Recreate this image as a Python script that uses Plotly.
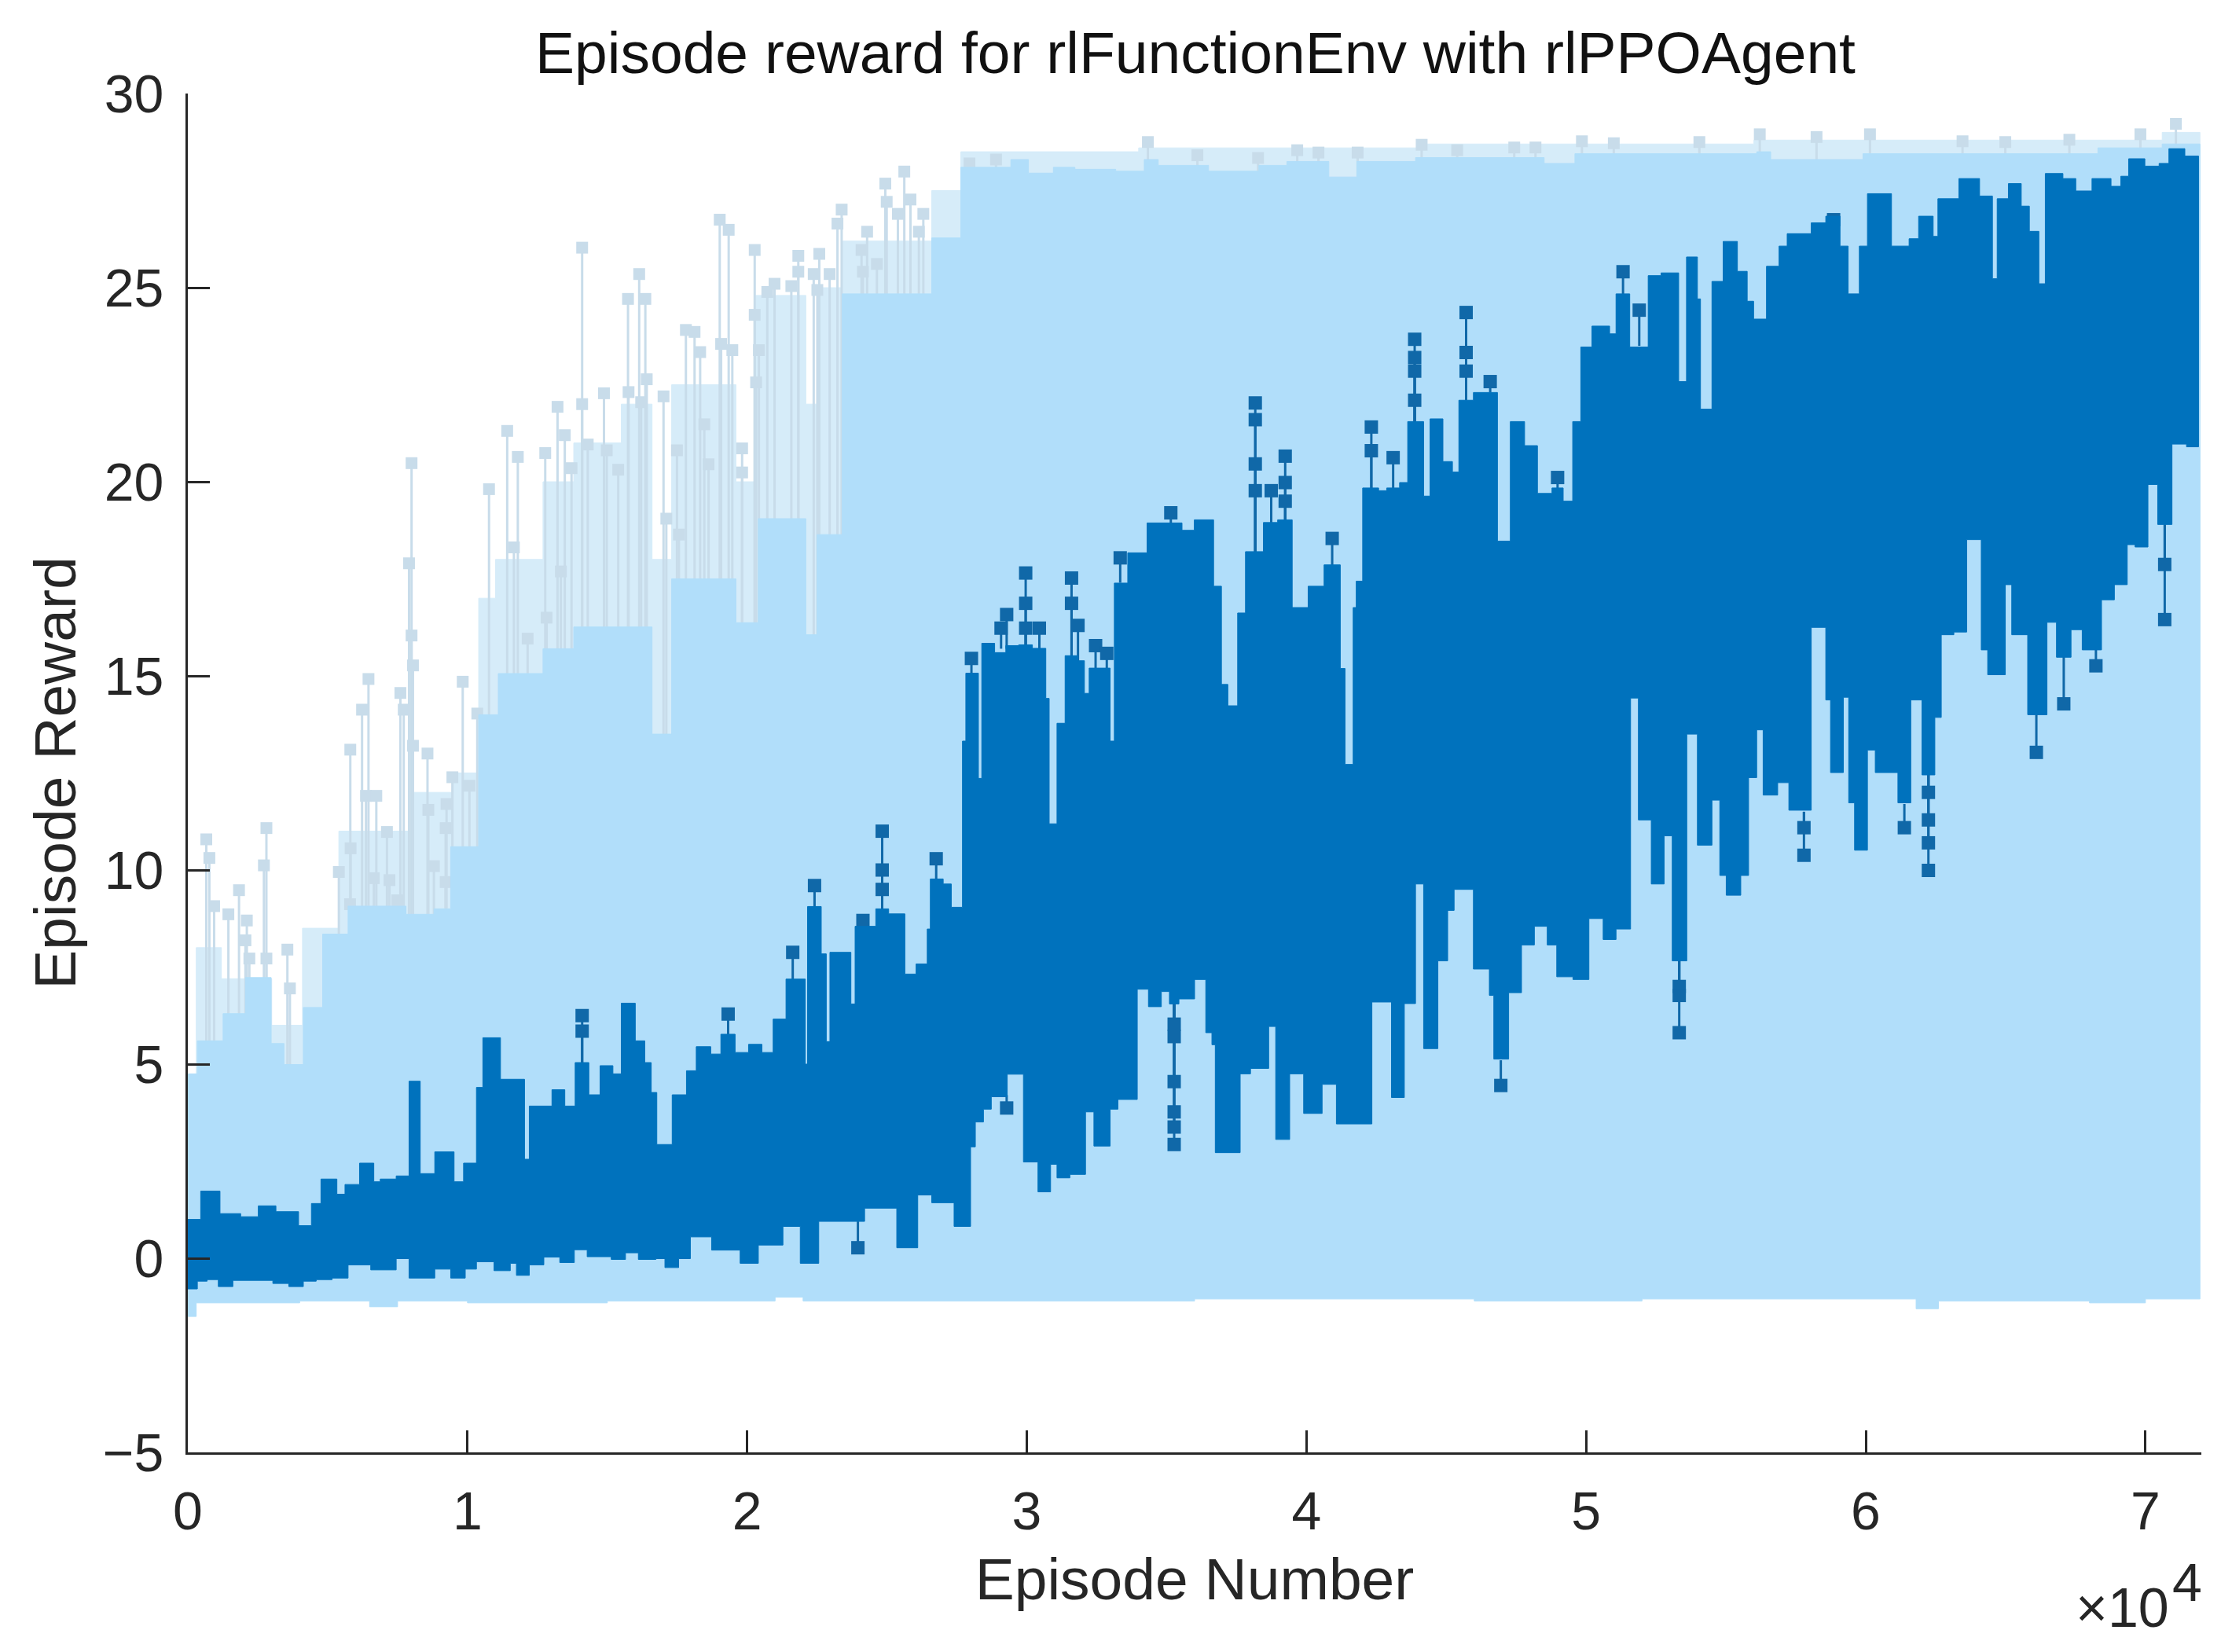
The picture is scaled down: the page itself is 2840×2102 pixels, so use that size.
import plotly.graph_objects as go

# Episode numbers are in units of 1e4, as the axis shows them.
title_text = "Episode reward for rlFunctionEnv with rlPPOAgent"
x_label = "Episode Number"
y_label = "Episode Reward"
x_ticks = [0, 1, 2, 3, 4, 5, 6, 7]
y_ticks = [-5, 0, 5, 10, 15, 20, 25, 30]
last_episode = 7.19

# Running-average series: upper edge of the dense band
dark_top_x = [0, .046, .115, .189, .252, .315, .396, .442, .476, .533, .562, .614, .665, .688, .745, .791, .831, .883, .952, .986,
              1.032, 1.055, 1.118, 1.204, 1.221, 1.302, 1.348, 1.385, 1.434, 1.474, 1.52, 1.55, 1.6, 1.634, 1.657, 1.677, 1.732, 1.783,
              1.818, 1.87, 1.906, 1.957, 2.005, 2.053, 2.093, 2.139, 2.208, 2.216, 2.265, 2.283, 2.296, 2.371, 2.386, 2.46, 2.506, 2.564,
              2.604, 2.644, 2.655, 2.701, 2.73, 2.77, 2.782, 2.827, 2.839, 2.885, 2.925, 2.971, 3.02, 3.068, 3.08, 3.108, 3.137, 3.183,
              3.206, 3.223, 3.298, 3.313, 3.361, 3.43, 3.555,
              3.599, 3.668, 3.696, 3.719, 3.754, 3.782, 3.846, 3.897, 3.949, 4.006, 4.063, 4.121, 4.138, 4.167, 4.178, 4.201, 4.258, 4.287,
              4.333, 4.362, 4.419, 4.442, 4.488, 4.522, 4.545, 4.597, 4.683, 4.729, 4.78, 4.826, 4.878, 4.918, 4.952, 4.981, 5.021, 5.084,
              5.107, 5.156, 5.222, 5.268, 5.331, 5.359, 5.398, 5.409, 5.45, 5.49, 5.541, 5.576, 5.599, 5.645, 5.69, 5.719, 5.805, 5.857,
              5.908, 5.937, 5.977, 6.006, 6.092, 6.155, 6.189, 6.241, 6.258, 6.333, 6.407, 6.453, 6.47, 6.51, 6.556, 6.585, 6.619, 6.642,
              6.705, 6.751, 6.809, 6.877, 6.912, 6.94, 6.998, 7.049, 7.084, 7.141]
dark_top_y = [1.0, 1.73, 1.15, 1.07, 1.35, 1.2, .84, 1.41, 2.04, 1.65, 1.9, 2.45, 1.97, 2.04, 2.12, 4.56, 2.18, 2.74, 1.97, 2.45,
              4.4, 5.68, 4.61, 2.55, 3.92, 4.34, 3.92, 5.04, 4.21, 4.96, 4.75, 6.57, 5.6, 5.04, 4.27, 2.93, 4.21, 4.83,
              5.45, 5.26, 5.77, 5.3, 5.51, 5.3, 6.16, 7.19, 5.0, 9.06, 7.84, 5.58, 7.88, 6.55, 8.55, 9.0, 8.87, 7.32,
              7.58, 8.48, 9.77, 9.64, 9.04, 13.32, 15.07, 12.36, 15.84, 15.6, 15.78, 15.8, 15.71, 14.42, 11.19, 13.78, 15.52, 15.39,
              14.55, 15.2, 13.32, 17.39, 18.17, 18.94, 18.75,
              19.02, 17.31, 14.78, 14.23, 16.62, 18.2, 18.95, 19.02, 16.76, 17.31, 17.86, 15.19, 12.72, 16.76, 17.44, 19.84, 19.77, 19.84,
              19.98, 21.55, 19.63, 21.62, 20.52, 20.25, 22.1, 22.3, 18.47, 21.55, 20.93, 19.7, 19.84, 19.5, 21.55, 23.47, 24.01, 23.81,
              24.84, 23.47, 25.31, 25.38, 22.58, 25.79, 24.71, 21.87, 25.16, 26.19, 25.42, 24.65, 24.19, 25.55, 26.07, 26.39, 26.67, 26.84,
              26.07, 24.84, 26.07, 27.42, 26.07, 26.26, 26.84, 26.32, 27.29, 27.81, 27.36, 25.23, 27.29, 27.68, 27.1, 26.45, 25.1, 27.94,
              27.81, 27.49, 27.81, 27.61, 27.87, 28.32, 28.13, 28.2, 28.58, 28.39]

# Running-average series: lower edge of the dense band
dark_bot_x = [0, .034, .069, .109, .161, .304, .361, .413, .459, .516, .573, .654, .745, .791, .883, .94, .992, 1.032, 1.095, 1.153,
              1.175, 1.221, 1.273, 1.33, 1.382, 1.428, 1.514, 1.565, 1.611, 1.674, 1.706, 1.755,
              1.797, 1.873, 1.975, 2.04, 2.128, 2.19, 2.256, 2.42, 2.535, 2.61, 2.66, 2.74, 2.799, 2.816, 2.845, 2.873, 2.93, 2.988,
              3.04, 3.085, 3.108, 3.154, 3.21, 3.24, 3.298, 3.326, 3.395, 3.435, 3.481, 3.51, 3.544, 3.6, 3.64, 3.662, 3.674, 3.763, 3.8,
              3.865, 3.89, 3.94, 3.99, 4.056, 4.107, 4.234, 4.304, 4.35, 4.39, 4.419, 4.47, 4.505, 4.528, 4.597, 4.654, 4.67, 4.723, 4.769,
              4.815, 4.861, 4.895, 4.953, 5.01, 5.061, 5.107, 5.159, 5.187, 5.233, 5.279, 5.308, 5.36, 5.398, 5.45, 5.478, 5.501, 5.553,
              5.581, 5.61, 5.633, 5.685, 5.725, 5.805, 5.857, 5.874, 5.92, 5.939, 5.96, 6.006, 6.034, 6.115, 6.161, 6.201, 6.247, 6.27,
              6.315, 6.361, 6.413, 6.436, 6.499, 6.522, 6.579, 6.648, 6.682, 6.734, 6.774, 6.843, 6.889, 6.935, 6.963, 7.009, 7.044, 7.095, 7.147]
dark_bot_y = [-.79, -.59, -.55, -.73, -.57, -.65, -.73, -.59, -.55, -.51, -.17, -.3, -.01, -.51, -.28, -.51, -.28, -.09, -.32, -.13,
              -.44, -.17, .03, -.11, .22, .04, -.03, .14, -.03, -.01, -.24, -.01,
              .55, .21, -.13, .34, .82, -.13, .95, 1.29, .27, 1.63, 1.43, .82, 2.87, 3.51, 3.84, 4.16, 4.74, 2.48,
              1.71, 2.42, 2.07, 2.16, 3.77, 2.89, 3.84, 4.09, 6.93, 6.48, 6.87, 6.55, 6.68, 7.18, 5.81, 5.5, 2.72, 4.75, 4.89,
              5.97, 3.06, 4.75, 3.73, 4.48, 3.46, 6.6, 4.14, 6.56, 9.64, 5.4, 7.66, 8.96, 9.5, 7.45, 6.77, 5.13, 6.84, 8.07,
              8.55, 8.07, 7.25, 7.18, 8.75, 8.21, 8.48, 14.43, 11.29, 9.64, 10.88, 7.66, 13.5, 10.64, 11.8, 9.86, 9.35, 9.86,
              12.38, 13.61, 11.93, 12.25, 11.54, 16.25, 14.38, 12.51, 14.45, 11.73, 10.51, 13.09, 12.51, 11.73, 14.38, 12.45, 13.93, 16.06,
              16.13, 18.51, 15.67, 15.03, 17.35, 16.06, 14.0, 16.38, 15.48, 16.19, 15.67, 16.96, 17.35, 18.38, 18.32, 19.93, 18.9, 20.97, 20.9]

# Running-average series: isolated points joined to the band by a thin line
dark_spike_x = [1.41, 1.41, 1.932, 2.163, 2.241, 2.414, 2.483, 2.483, 2.483, 2.676, 2.802, 2.908, 2.928, 2.996, 2.996, 2.996, 3.045,
                3.16, 3.16, 3.183, 3.246, 3.286, 3.334, 3.515, 3.817, 3.817, 3.817, 3.817, 3.874, 3.924, 3.924, 3.924, 4.092, 4.232, 4.232, 4.31,
                4.387, 4.387, 4.387, 4.387, 4.571, 4.571, 4.571, 4.657, 4.898, 5.132, 5.19, 5.885,
                2.396, 2.928, 3.527, 3.527, 3.527, 3.527, 3.527, 3.527, 4.695, 5.333, 5.333, 5.333, 5.779, 5.779, 6.138,
                6.224, 6.224, 6.224, 6.224, 6.61, 6.708, 6.823, 7.069, 7.069]
dark_spike_y = [6.25, 5.85, 6.29, 7.88, 9.6, 8.7, 11.0, 10.0, 9.5, 10.29, 15.45, 16.23, 16.58, 17.65, 16.87, 16.23, 16.23,
                17.52, 16.87, 16.3, 15.78, 15.58, 18.04, 19.2, 22.03, 21.6, 20.46, 19.77, 19.77, 20.66, 19.98, 19.5, 18.54, 21.41, 20.8, 20.62,
                23.67, 23.2, 22.85, 22.1, 24.36, 23.33, 22.85, 22.58, 20.11, 25.41, 24.42, 26.75,
                .27, 3.87, 6.03, 5.71, 4.55, 3.77, 3.38, 2.93, 4.45, 7.0, 6.77, 5.81, 11.09, 10.38, 11.09,
                12.0, 11.29, 10.7, 9.99, 13.03, 14.28, 15.26, 17.87, 16.45]
dark_spike_base = [5.0, 5.0, 5.7, 7.1, 9.0, 8.3, 9.0, 9.0, 9.0, 9.7, 15.0, 15.7, 15.7, 15.7, 15.7, 15.7, 15.7,
                   15.5, 15.5, 15.3, 15.2, 15.2, 17.4, 18.9, 18.2, 18.2, 18.2, 18.2, 18.9, 19.0, 19.0, 19.0, 17.8, 19.8, 19.8, 19.8,
                   21.5, 21.5, 21.5, 21.5, 22.1, 22.1, 22.1, 22.3, 19.8, 24.8, 23.5, 26.5,
                   .95, 4.2, 6.6, 6.6, 6.6, 6.6, 6.6, 6.6, 5.1, 7.7, 7.7, 7.7, 11.5, 11.5, 11.7,
                   12.5, 12.5, 12.5, 12.5, 14.0, 15.5, 15.7, 18.9, 18.9]

# Per-episode series: upper and lower edge of the dense band
light_top_x = [0, .034, .126, .206, .298, .344, .413, .482, .573, .78, .88, .94, 1.04, 1.11, 1.27, 1.38, 1.66, 1.73, 1.96, 2.04, 2.21,
               2.25, 2.34, 2.66, 2.764, 2.943, 3.006, 3.095, 3.172, 3.318, 3.42, 3.47, 3.65, 3.83, 3.93, 4.08, 4.18, 4.39, 4.85, 4.96,
               5.61, 5.66, 5.99, 6.3, 6.83, 7.06]
light_top_y = [4.75, 5.6, 6.3, 7.23, 5.53, 4.99, 6.46, 8.35, 9.07, 8.86, 9.0, 10.6, 14.0, 15.06, 15.7, 16.26, 13.5, 17.5, 16.37, 19.05, 16.06,
               18.64, 24.84, 26.28, 28.1, 28.3, 27.95, 28.1, 28.05, 28.0, 28.3, 28.15, 28.0, 28.15, 28.25, 27.85, 28.25, 28.35, 28.2, 28.45,
               28.5, 28.3, 28.45, 28.45, 28.6, 28.7]
light_bot_x = [0, .03, .4, .65, .75, 1.0, 1.5, 2.1, 2.2, 2.9, 3.6, 4.6, 5.2, 5.6, 6.18, 6.26, 6.8, 7.0]
light_bot_y = [-1.5, -1.15, -1.1, -1.25, -1.1, -1.15, -1.1, -1.0, -1.1, -1.1, -1.05, -1.1, -1.05, -1.05, -1.3, -1.1, -1.15, -1.05]

# Per-episode series: upper edge of the thinner streaks above the dense band
light_streak_x = [.03, .12, .3, .41, .54, .8, .95, 1.04, 1.1, 1.27, 1.38, 1.55, 1.66, 1.73, 1.96, 2.03, 2.21, 2.25, 2.34, 2.66,
                  2.764, 3.4, 4.4, 5.6, 7.06, 7.195]
light_streak_y = [8.0, 7.2, 6.0, 8.5, 11.0, 12.0, 12.5, 17.0, 18.0, 20.0, 21.0, 22.0, 18.0, 22.5, 20.0, 24.8, 22.0, 25.0, 26.2, 27.5,
                  28.5, 28.6, 28.7, 28.8, 29.0]
light_streak_floor = 4.0

# Per-episode series: isolated points rising above the band
light_spike_x = [.066, .077, .094, .183, .145, .211, .206, .22, .281, .272, .281, .356, .365, .54, .581, .582, .58, .623, .646, .637,
                 .674, .665, .712, .721, .749, .76, .772, .80, .791, .80, .805, .805, .857, .86, .88, .946, .925, .922, .922, .983,
                 1.007, 1.035, 1.077, 1.142, 1.18, 1.166, 1.215, 1.278, 1.283, 1.322, 1.334, 1.372, 1.348,
                 1.41, 1.41, 1.43, 1.488, 1.498, 1.539, 1.574, 1.614, 1.636, 1.641, 1.576, 1.621, 1.701, 1.711, 1.749, 1.756, 1.781, 1.812,
                 1.832, 1.847, 1.862, 1.902, 1.934, 1.907, 1.947, 1.982, 1.982, 2.027, 2.027, 2.032, 2.042, 2.098, 2.072, 2.183, 2.158, 2.183,
                 2.258, 2.238, 2.295, 2.251, 2.338, 2.323, 2.429, 2.409, 2.494, 2.562, 2.499, 2.584, 2.539, 2.63, 2.614, 2.414, 2.464, 2.795, 2.89,
                 3.433, 3.61, 3.827, 3.967, 4.043, 4.183, 4.412, 4.539, 4.743, 4.819, 4.985, 5.099, 5.405, 5.621, 5.824, 6.015, 6.346, 6.499, 6.728, 6.982, 7.109]
light_spike_y = [10.79, 10.31, 9.07, 9.48, 8.86, 8.7, 8.19, 7.72, 11.08, 10.12, 7.72, 7.95, 6.95, 9.95, 13.1, 10.56, 9.12, 14.13, 14.92, 11.91,
                 11.91, 9.79, 10.98, 9.74, 9.22, 14.56, 14.13, 20.48, 17.9, 16.04, 15.27, 13.2, 13.0, 11.55, 10.1, 12.39, 11.7, 11.08, 9.69, 14.85,
                 12.17, 14.03, 19.81, 21.31, 20.64, 18.31, 15.96, 20.74, 16.5, 21.93, 17.69, 20.35, 21.2,
                 26.03, 22.0, 20.96, 22.28, 20.81, 20.31, 24.71, 25.35, 24.71, 22.64, 22.31, 22.05, 22.2, 19.05, 20.81, 18.64, 23.91, 23.86,
                 23.34, 21.48, 20.45, 26.75, 26.49, 23.55, 23.39, 20.86, 20.24, 25.97, 24.3, 22.56, 23.39, 25.1, 24.89, 25.82, 25.04, 25.41,
                 25.87, 25.35, 25.35, 24.94, 27.01, 26.65, 26.44, 25.97, 27.68, 27.99, 27.21, 27.27, 26.9, 26.9, 26.44, 25.41, 25.61, 28.2, 28.3,
                 28.75, 28.41, 28.34, 28.54, 28.48, 28.48, 28.68, 28.54, 28.61, 28.61, 28.77, 28.72, 28.75, 28.95, 28.88, 28.95, 28.77, 28.75, 28.81, 28.95, 29.22]
light_spike_base = 4.0

LIGHT = "#B1DEFA"
LIGHT_EDGE = "#C8DCEA"
STREAK = "#D6ECF9"
DARK = "#0072BD"
DARK_EDGE = "#1068A8"
INK = "#262626"


def band(top_x, top_y, bot_x, bot_y, end):
    """Closed outline of a band whose edges are held between readings."""
    xs, ys = [], []
    tx = list(top_x) + [end]
    for i, y in enumerate(top_y):
        xs += [tx[i], tx[i + 1]]
        ys += [y, y]
    bx = list(bot_x) + [end]
    for i in range(len(bot_y) - 1, -1, -1):
        xs += [bx[i + 1], bx[i]]
        ys += [bot_y[i], bot_y[i]]
    xs.append(xs[0])
    ys.append(ys[0])
    return xs, ys


def stems(xs, tips, bases):
    ox, oy = [], []
    for x, t, b in zip(xs, tips, bases):
        ox += [x, x, None]
        oy += [t, b, None]
    return ox, oy


fig = go.Figure()

sx, sy = band(light_streak_x[:-1], light_streak_y, [light_streak_x[0]], [light_streak_floor], light_streak_x[-1])
fig.add_trace(go.Scatter(x=sx, y=sy, mode="lines", fill="toself", fillcolor=STREAK,
                         line=dict(color=STREAK, width=1), hoverinfo="skip", showlegend=False))
lsx, lsy = stems(light_spike_x, light_spike_y, [light_spike_base] * len(light_spike_x))
fig.add_trace(go.Scatter(x=lsx, y=lsy, mode="lines", line=dict(color=LIGHT_EDGE, width=3), hoverinfo="skip", showlegend=False))
fig.add_trace(go.Scatter(x=light_spike_x, y=light_spike_y, mode="markers",
                         marker=dict(symbol="square", size=15, color=LIGHT_EDGE, line=dict(width=0)),
                         hoverinfo="skip", showlegend=False))
bx, by = band(light_top_x, light_top_y, light_bot_x, light_bot_y, last_episode + 0.005)
fig.add_trace(go.Scatter(x=bx, y=by, mode="lines", fill="toself", fillcolor=LIGHT,
                         line=dict(color=LIGHT, width=1), hoverinfo="skip", showlegend=False))

dsx, dsy = stems(dark_spike_x, dark_spike_y, dark_spike_base)
fig.add_trace(go.Scatter(x=dsx, y=dsy, mode="lines", line=dict(color=DARK_EDGE, width=3), hoverinfo="skip", showlegend=False))
fig.add_trace(go.Scatter(x=dark_spike_x, y=dark_spike_y, mode="markers",
                         marker=dict(symbol="square", size=17, color=DARK_EDGE, line=dict(width=0)),
                         hoverinfo="skip", showlegend=False))
bx, by = band(dark_top_x, dark_top_y, dark_bot_x, dark_bot_y, last_episode)
fig.add_trace(go.Scatter(x=bx, y=by, mode="lines", fill="toself", fillcolor=DARK,
                         line=dict(color=DARK, width=1), hoverinfo="skip", showlegend=False))

FONT = "Liberation Sans, Arial, sans-serif"
fig.update_layout(
    width=2840, height=2102, autosize=False,
    margin=dict(l=239, r=39, t=119, b=254, pad=0),
    paper_bgcolor="white", plot_bgcolor="white",
    font=dict(family=FONT, color=INK),
    title=dict(text=title_text, x=1521 / 2840, xref="container", xanchor="center",
               y=1 - 67 / 2102, yref="container", yanchor="middle",
               font=dict(family=FONT, size=75, color="#111111")),
    annotations=[
        dict(text="×10", x=0.9848, y=-0.1385, xref="paper", yref="paper", xanchor="right", yanchor="bottom",
             showarrow=False, font=dict(family=FONT, size=70, color=INK)),
        dict(text="4", x=0.9848, y=-0.1186, xref="paper", yref="paper", xanchor="left", yanchor="bottom",
             showarrow=False, font=dict(family=FONT, size=68, color=INK)),
    ],
)
fig.update_xaxes(
    range=[0, 7.2], tickmode="array", tickvals=x_ticks, ticktext=[str(t) for t in x_ticks],
    ticks="inside", ticklen=28, tickwidth=3, tickcolor=INK,
    showline=True, linewidth=3, linecolor=INK, showgrid=False, zeroline=False,
    tickfont=dict(family=FONT, size=68, color=INK), ticklabelstandoff=13,
    title=dict(text=x_label, font=dict(family=FONT, size=75, color=INK), standoff=24),
    automargin=False,
)
fig.update_yaxes(
    range=[-5, 30], tickmode="array", tickvals=y_ticks, ticktext=["−5" if t < 0 else str(t) for t in y_ticks],
    ticks="inside", ticklen=28, tickwidth=3, tickcolor=INK,
    showline=True, linewidth=3, linecolor=INK, showgrid=False, zeroline=False,
    tickfont=dict(family=FONT, size=68, color=INK), ticklabelstandoff=14,
    title=dict(text=y_label, font=dict(family=FONT, size=75, color=INK), standoff=10),
    automargin=False,
)
fig.write_html("out.html", config=dict(displayModeBar=False), post_script="document.body.style.margin='0';")
